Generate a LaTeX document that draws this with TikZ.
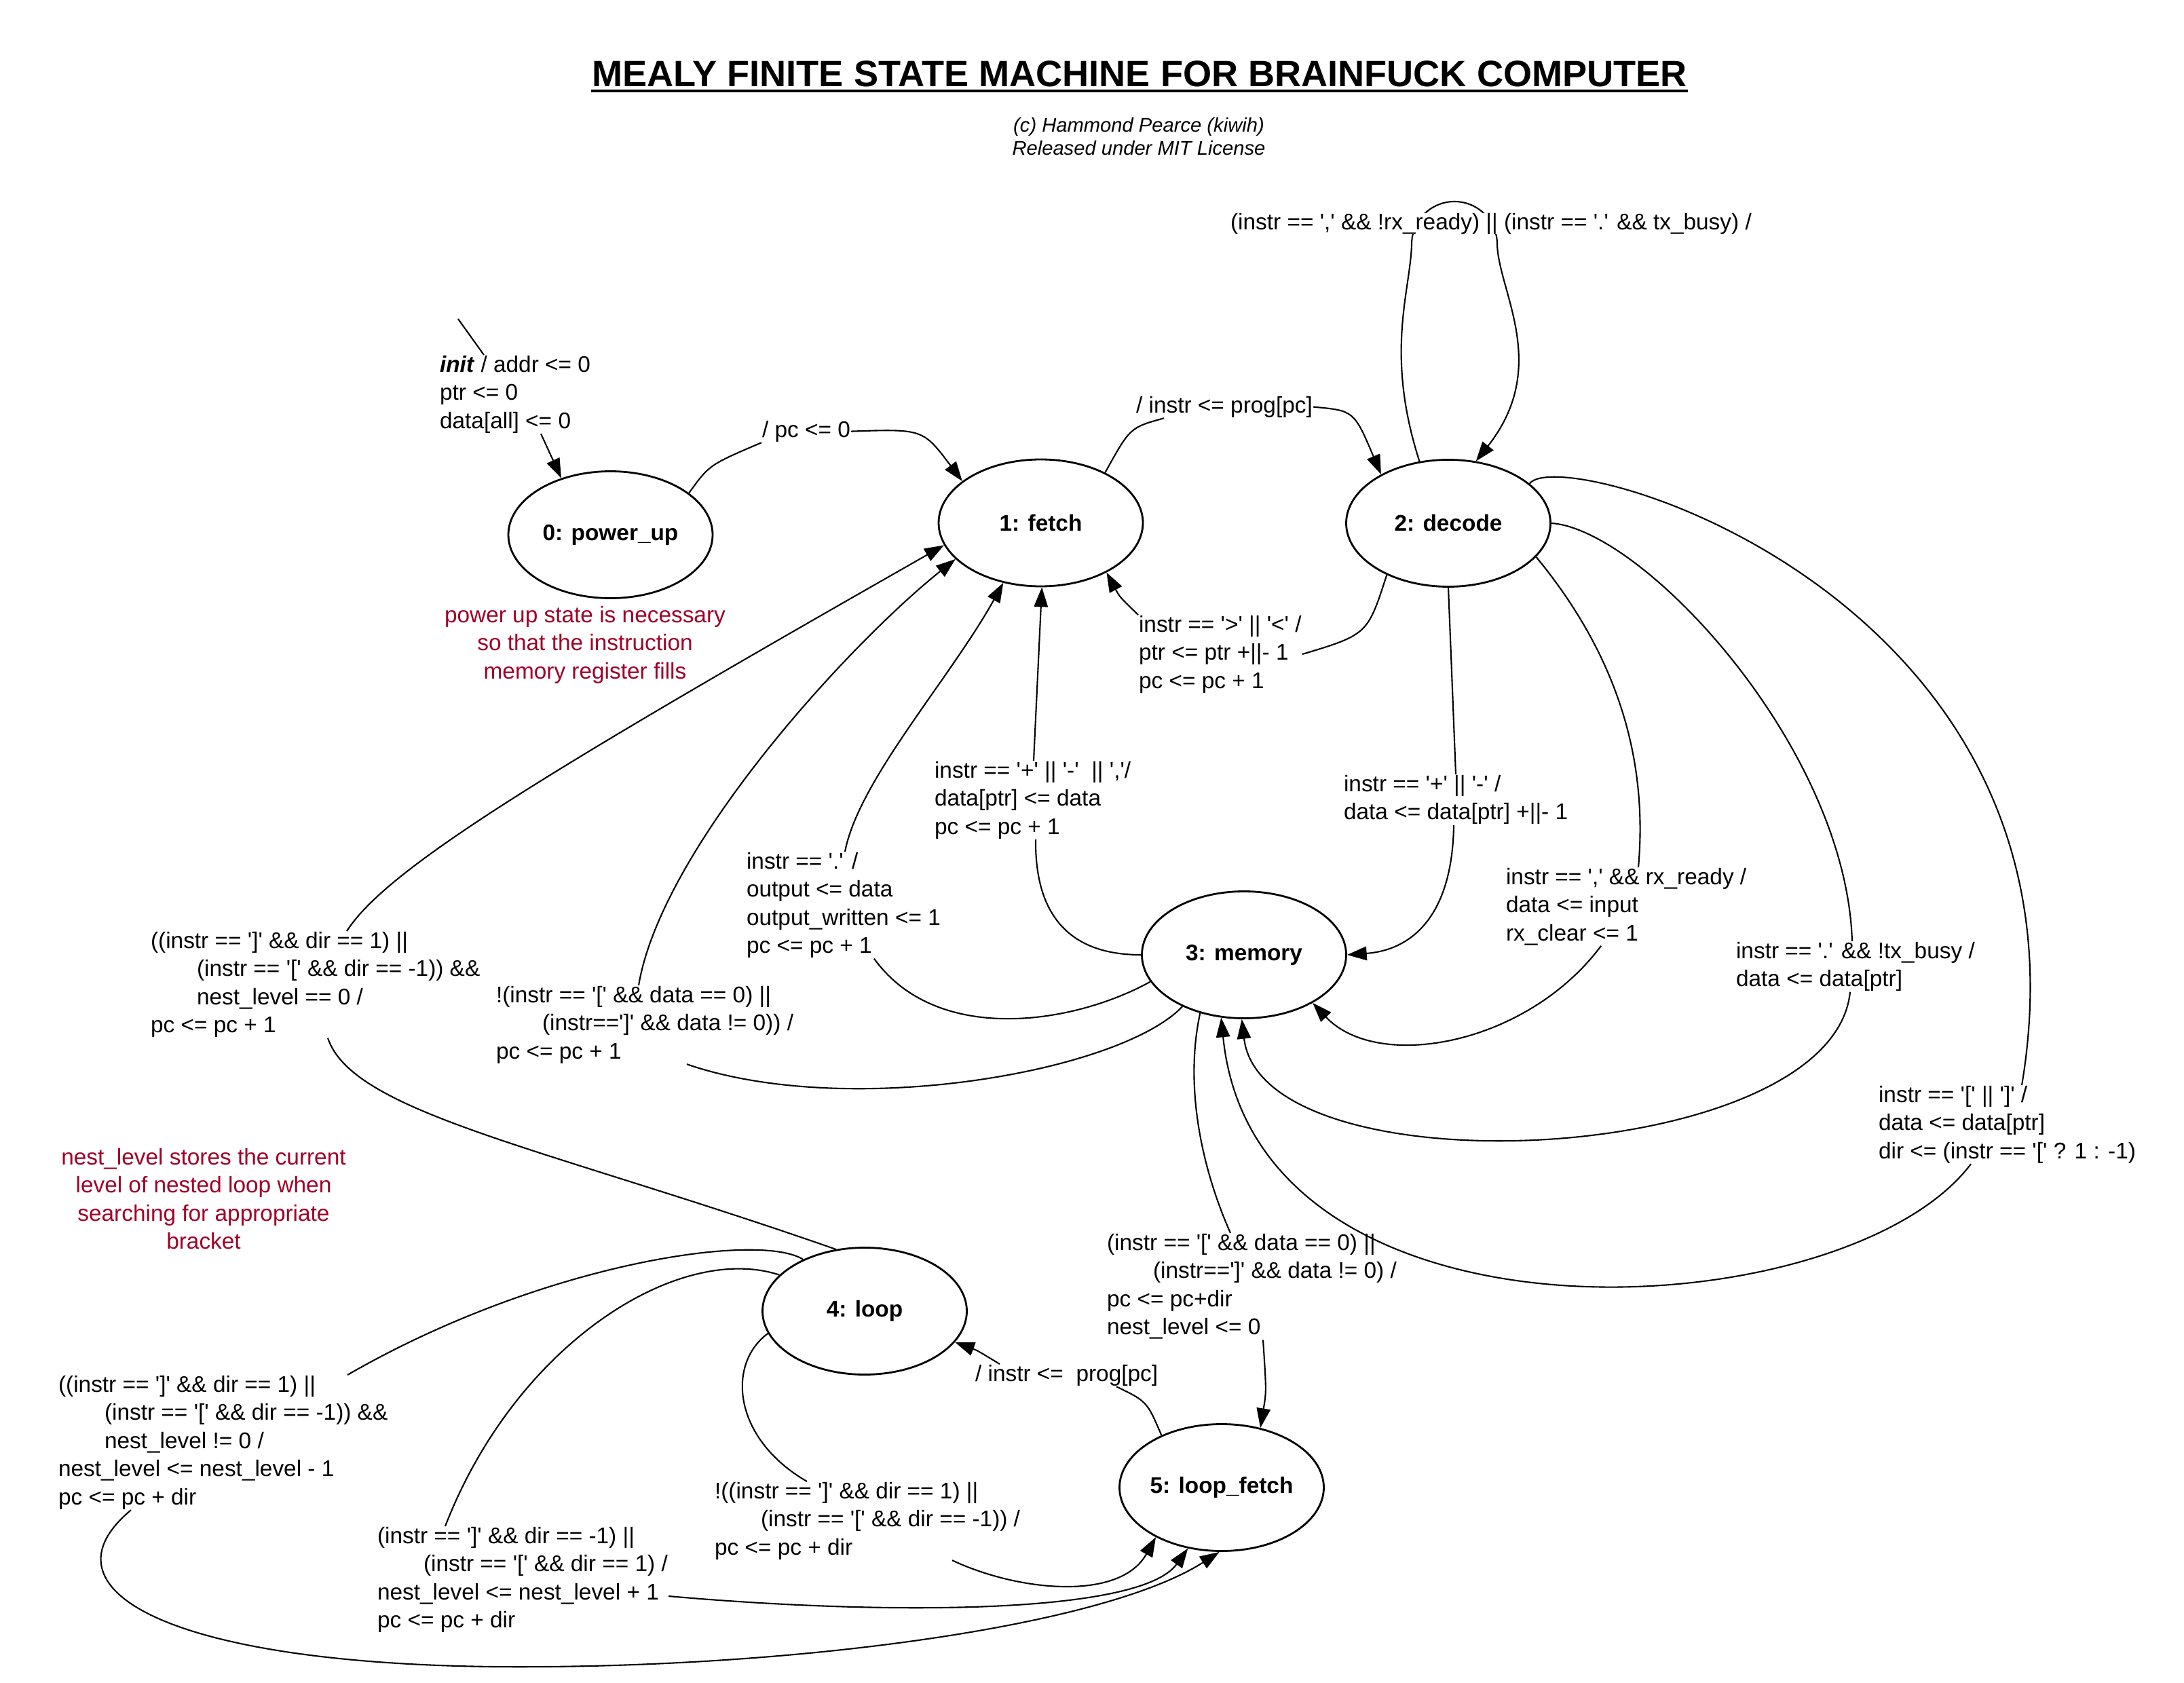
\documentclass[tikz,border=0pt]{standalone}
\usepackage{fontspec}
\setmainfont{Liberation Sans}[Ligatures=TeXOff]
\usetikzlibrary{arrows.meta,shapes.geometric}

\begin{document}
\begin{tikzpicture}[>={Triangle[length=8.2pt,width=5.8pt]},line width=0.6pt,
  font=\fontsize{9.5}{11.8}\selectfont,
  fsmstate/.style={ellipse,draw,line width=0.8pt,inner sep=0pt,minimum width=3.01cm,
    minimum height=1.87cm,font=\fontsize{9.5}{11.8}\selectfont\bfseries},
  cond/.style={align=left,inner sep=0pt,anchor=north west},
  remark/.style={align=center,inner sep=0pt,anchor=north,text=noteRed}]
\definecolor{noteRed}{RGB}{160,0,38}
\useasboundingbox (0,0) rectangle (32.18,-24.80);

% heading
\node[font=\fontsize{15.4}{18}\selectfont\bfseries,inner sep=0pt,anchor=base]
  (title) at (16.79,-1.28) {MEALY FINITE STATE MACHINE FOR BRAINFUCK COMPUTER};
\draw[line width=1.1pt] ([yshift=-0.06cm]title.base west) -- ([yshift=-0.06cm]title.base east);
\node[font=\fontsize{8.3}{9.9}\selectfont\itshape,align=center,inner sep=0pt,anchor=north]
  (credit) at (16.78,-1.72) {(c) Hammond Pearce (kiwih)\\Released under MIT License};

% states
\node[fsmstate] (pwr) at (8.995,-7.88) {0: power\_up};
\node[fsmstate] (fetch) at (15.335,-7.705) {1: fetch};
\node[fsmstate] (decode) at (21.34,-7.71) {2: decode};
\node[fsmstate] (memory) at (18.33,-14.07) {3: memory};
\node[fsmstate] (loop) at (12.74,-19.32) {4: loop};
\node[fsmstate] (lfetch) at (18.00,-21.92) {5: loop\_fetch};

% transition labels
\coordinate (initstart) at (6.75,-4.70);
\node[cond] (Linit) at (6.47,-5.23) {\textbf{\textit{init}} / addr <= 0\\ptr <= 0\\data[all] <= 0};
\node[cond] (Lpc) at (11.22,-6.19) {/ pc <= 0};
\node[cond] (Lprog) at (16.73,-5.83) {/ instr <= prog[pc]};
\node[cond] (Lshift) at (16.77,-9.06) {instr == '>' || '<' /\\ptr <= ptr +||- 1\\pc <= pc + 1};
\node[cond] (Lplus) at (13.76,-11.21) {instr == '+' || '-'~ || ','/\\data[ptr] <= data\\pc <= pc + 1};
\node[cond] (Ldot) at (10.99,-12.55) {instr == '.' /\\output <= data\\output\_written <= 1\\pc <= pc + 1};
\node[cond] (Lskip) at (7.30,-14.52) {!(instr == '[' \&\& data == 0) ||\\\hspace*{0.68cm}(instr==']' \&\& data != 0)) /\\pc <= pc + 1};
\node[cond] (Lexit) at (2.21,-13.72) {((instr == ']' \&\& dir == 1) ||\\\hspace*{0.68cm}(instr == '[' \&\& dir == -1)) \&\&\\\hspace*{0.68cm}nest\_level == 0 /\\pc <= pc + 1};
\node[cond] (Linc) at (19.79,-11.41) {instr == '+' || '-' /\\data <= data[ptr] +||- 1};
\node[cond] (Lrx) at (22.18,-12.78) {instr == ',' \&\& rx\_ready /\\data <= input\\rx\_clear <= 1};
\node[cond] (Ltx) at (25.57,-13.87) {instr == '.' \&\& !tx\_busy /\\data <= data[ptr]};
\node[cond] (Lbrk) at (27.67,-15.99) {instr == '[' || ']' /\\data <= data[ptr]\\dir <= (instr == '[' ? 1 : -1)};
\node[cond] (Ljump) at (16.30,-18.17) {(instr == '[' \&\& data == 0) ||\\\hspace*{0.68cm}(instr==']' \&\& data != 0) /\\pc <= pc+dir\\nest\_level <= 0};
\node[cond] (Llprog) at (14.36,-20.10) {/ instr <=~ prog[pc]};
\node[cond] (Lscan) at (10.52,-21.83) {!((instr == ']' \&\& dir == 1) ||\\\hspace*{0.68cm}(instr == '[' \&\& dir == -1)) /\\pc <= pc + dir};
\node[cond] (Ldown) at (5.55,-22.49) {(instr == ']' \&\& dir == -1) ||\\\hspace*{0.68cm}(instr == '[' \&\& dir == 1) /\\nest\_level <= nest\_level + 1\\pc <= pc + dir};
\node[cond] (Lup) at (0.85,-20.26) {((instr == ']' \&\& dir == 1) ||\\\hspace*{0.68cm}(instr == '[' \&\& dir == -1)) \&\&\\\hspace*{0.68cm}nest\_level != 0 /\\nest\_level <= nest\_level - 1\\pc <= pc + dir};

% notes
\node[remark] (Npwr) at (8.62,-8.92) {power up state is necessary\\so that the instruction\\memory register fills};
\node[remark] (Nnest) at (3.00,-16.91) {nest\_level stores the current\\level of nested loop when\\searching for appropriate\\bracket};

% power up and fetch
\draw (initstart) -- ([xshift=0.66cm]Linit.north west);
\draw[->] ([xshift=1.50cm]Linit.south west) -- (pwr.131);
\draw (pwr.28) .. controls (10.45,-6.85) .. (Lpc.south west);
\draw[->] (Lpc.east) .. controls (13.60,-6.32) .. (fetch.152);
\draw (fetch.38) .. controls (16.65,-6.30) .. ([xshift=0.42cm]Lprog.south west);
\draw[->] (Lprog.east) .. controls (19.95,-6.05) .. (decode.144);

% decode waits on io
\draw[->] (decode.115) .. controls (20.40,-5.20) and (20.78,-4.30) .. (20.80,-3.60)
  arc[start angle=180,end angle=0,radius=0.63]
  .. controls (22.08,-4.30) and (22.85,-5.40) .. (decode.66);
\node[cond,fill=white] (Lself) at (18.12,-3.13) {(instr == ',' \&\& !rx\_ready) || (instr == '.' \&\& tx\_busy) /};

% back to fetch
\draw (decode.220) .. controls (20.15,-9.35) .. (Lshift.east);
\draw[->] (Lshift.north west) .. controls (16.50,-8.80) .. (fetch.323);
\draw (memory.west) .. controls (15.60,-14.07) and (15.25,-13.30) .. ([xshift=1.50cm]Lplus.south west);
\draw[->] ([xshift=1.47cm]Lplus.north west) -- (fetch.271);
\draw (memory.196) .. controls (15.80,-15.10) and (13.80,-15.40) .. ([xshift=1.89cm]Ldot.south west);
\draw[->] ([xshift=1.46cm]Ldot.north west) .. controls (12.65,-11.50) and (14.00,-10.00) .. (fetch.238);
\draw (memory.220) .. controls (16.50,-15.80) and (12.50,-16.50) .. ([xshift=2.82cm]Lskip.south west);
\draw[->] ([xshift=2.11cm]Lskip.north west) .. controls (9.75,-12.50) and (12.50,-9.50) .. (fetch.203);
\draw (loop.115) .. controls (8.00,-16.90) and (5.20,-16.40) .. ([xshift=2.62cm]Lexit.south west);
\draw[->] ([xshift=2.90cm]Lexit.north west) .. controls (5.70,-12.80) and (8.00,-11.40) .. (fetch.193);

% decode to memory
\draw (decode.south) -- ([xshift=1.66cm]Linc.north west);
\draw[->] ([xshift=1.63cm]Linc.south west) .. controls (21.40,-13.50) and (20.80,-14.00) .. (memory.east);
\draw (decode.339) .. controls (23.70,-9.50) and (24.30,-11.00) .. ([xshift=1.96cm]Lrx.north west);
\draw[->] ([xshift=1.41cm]Lrx.south west) .. controls (22.50,-15.40) and (20.30,-15.80) .. (memory.325);
\draw (decode.east) .. controls (24.20,-7.80) and (27.20,-11.00) .. ([xshift=1.72cm]Ltx.north west);
\draw[->] ([xshift=1.69cm]Ltx.south west) .. controls (27.00,-17.20) and (18.60,-17.60) .. (memory.268);
\draw (decode.26) .. controls (23.00,-6.50) and (31.00,-8.80) .. ([xshift=2.12cm]Lbrk.north west);
\draw[->] ([xshift=1.37cm]Lbrk.south west) .. controls (27.20,-19.60) and (18.50,-20.10) .. (memory.250);

% bracket search
\draw (memory.233) .. controls (17.45,-16.00) and (17.70,-17.20) .. ([xshift=1.83cm]Ljump.north west);
\draw[->] ([xshift=2.31cm]Ljump.south west) .. controls (18.66,-20.50) .. (lfetch.57);
\draw (lfetch.139) .. controls (16.90,-20.65) .. ([xshift=2.09cm]Llprog.south west);
\draw[->] ([xshift=0.37cm]Llprog.north west) .. controls (14.40,-19.90) .. (loop.-19);
\draw (loop.193) .. controls (10.70,-20.10) and (10.80,-21.20) .. ([xshift=1.37cm]Lscan.north west);
\draw[->] ([xshift=3.51cm]Lscan.south west) .. controls (15.00,-23.45) and (16.50,-23.60) .. (lfetch.217);
\draw (loop.157) .. controls (10.00,-18.30) and (7.60,-19.80) .. ([xshift=1.01cm]Ldown.north west);
\draw[->] ([xshift=4.30cm,yshift=-1.03cm]Ldown.north west) .. controls (13.00,-23.80) and (16.80,-23.80) .. (lfetch.241);
\draw (loop.140) .. controls (11.20,-18.15) and (8.00,-18.60) .. ([xshift=4.27cm]Lup.north west);
\draw[->] ([xshift=1.08cm]Lup.south west) .. controls (0.55,-23.40) and (2.40,-24.50) .. (7.26,-24.56)
  .. controls (11.50,-24.60) and (16.20,-24.00) .. (lfetch.268);
\end{tikzpicture}
\end{document}
